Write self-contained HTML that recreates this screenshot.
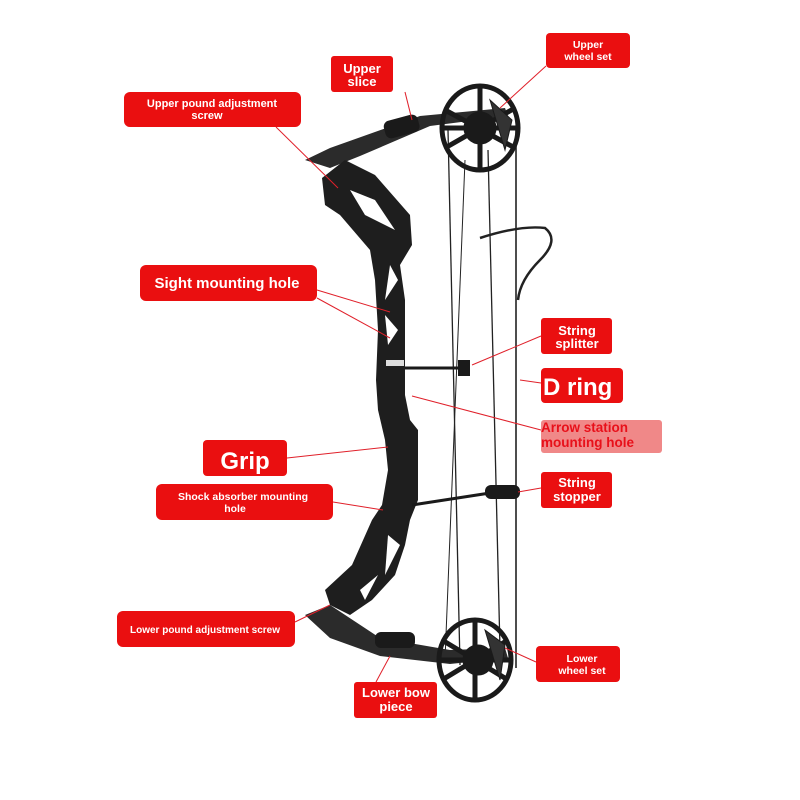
<!DOCTYPE html>
<html><head><meta charset="utf-8"><style>
html,body{margin:0;padding:0;background:#fff}
svg{display:block}
text{font-family:"Liberation Sans",sans-serif;font-weight:bold;fill:#fff;text-anchor:middle}
</style></head><body>
<svg width="800" height="800" viewBox="0 0 800 800" xmlns="http://www.w3.org/2000/svg">
<rect width="800" height="800" fill="#fff"/>
<g stroke="#222" fill="none">
<line x1="516" y1="128" x2="516" y2="668" stroke-width="1.6"/>
<line x1="448" y1="130" x2="460" y2="665" stroke-width="1.3"/>
<line x1="488" y1="150" x2="500" y2="650" stroke-width="1.3"/>
<line x1="465" y1="160" x2="445" y2="660" stroke-width="1"/>
<path d="M480 238 Q520 225 545 228 Q560 240 540 260 Q520 280 518 300" stroke-width="2.5"/>
</g>
<path d="M305 160 L330 148 L420 116 L505 108 L508 116 L430 126 L360 156 L330 168 Z" fill="#2b2b2b"/>
<rect x="385" y="118" width="35" height="18" rx="6" fill="#1a1a1a" transform="rotate(-15 400 130)"/>
<g stroke="#1a1a1a" fill="none">
<ellipse cx="480" cy="128" rx="38" ry="42" stroke-width="5"/>
<path d="M480 88 L480 168 M445 110 L515 148 M445 148 L515 108 M442 128 L518 128" stroke-width="5"/>
<circle cx="480" cy="128" r="16" fill="#1a1a1a"/>
<path d="M490 100 L512 120 L505 150 Z" fill="#333"/>
</g>
<path d="M322 178 L345 160 L375 175 L410 215 L412 245 L400 265 L405 300 L405 395 L410 420 L418 430 L418 500 L410 520 L405 545 L395 575 L372 600 L350 615 L330 605 L325 590 L352 565 L372 520 L382 505 L388 470 L385 440 L378 410 L376 380 L378 330 L375 280 L370 250 L340 215 L325 205 Z" fill="#1e1e1e"/>
<g fill="#fff">
<path d="M350 190 L375 200 L395 230 L365 215 Z"/>
<path d="M390 265 L398 280 L385 300 Z"/>
<path d="M385 315 L398 330 L388 345 Z"/>
<path d="M388 535 L400 545 L385 575 Z"/>
<path d="M360 590 L378 575 L365 600 Z"/>
</g>
<rect x="386" y="360" width="18" height="6" fill="#ddd"/>
<path d="M305 615 L330 605 L380 638 L450 650 L505 648 L508 658 L450 664 L380 656 L330 638 Z" fill="#2b2b2b"/>
<rect x="375" y="632" width="40" height="16" rx="6" fill="#1a1a1a"/>
<g stroke="#1a1a1a" fill="none">
<ellipse cx="475" cy="660" rx="36" ry="40" stroke-width="5"/>
<path d="M475 620 L475 700 M442 640 L508 680 M442 680 L508 640 M440 660 L510 660" stroke-width="5"/>
<circle cx="478" cy="660" r="15" fill="#1a1a1a"/>
<path d="M485 630 L505 645 L500 680 Z" fill="#333"/>
</g>
<line x1="405" y1="368" x2="465" y2="368" stroke="#1a1a1a" stroke-width="3"/>
<rect x="458" y="360" width="12" height="16" fill="#1a1a1a"/>
<line x1="412" y1="505" x2="490" y2="493" stroke="#1a1a1a" stroke-width="3"/>
<rect x="485" y="485" width="35" height="14" rx="6" fill="#1a1a1a"/>
<g stroke="#e0202a" stroke-width="1">
<line x1="405" y1="92" x2="412" y2="120"/>
<line x1="546" y1="66" x2="500" y2="108"/>
<line x1="276" y1="127" x2="338" y2="188"/>
<line x1="317" y1="290" x2="390" y2="312"/>
<line x1="317" y1="298" x2="390" y2="338"/>
<line x1="541" y1="336" x2="472" y2="365"/>
<line x1="541" y1="383" x2="520" y2="380"/>
<line x1="541" y1="430" x2="412" y2="396"/>
<line x1="287" y1="458" x2="388" y2="447"/>
<line x1="333" y1="502" x2="383" y2="510"/>
<line x1="541" y1="488" x2="518" y2="492"/>
<line x1="295" y1="622" x2="330" y2="605"/>
<line x1="536" y1="662" x2="505" y2="648"/>
<line x1="376" y1="682" x2="390" y2="656"/>
</g>
<g fill="#ea0f10">
<rect x="331" y="56" width="62" height="36" rx="3"/>
<rect x="546" y="33" width="84" height="35" rx="4"/>
<rect x="124" y="92" width="177" height="35" rx="6"/>
<rect x="140" y="265" width="177" height="36" rx="6"/>
<rect x="541" y="318" width="71" height="36" rx="3"/>
<rect x="541" y="368" width="82" height="35" rx="4"/>
<rect x="541" y="420" width="121" height="33" rx="3" fill="#f08888"/>
<rect x="203" y="440" width="84" height="36" rx="4"/>
<rect x="156" y="484" width="177" height="36" rx="6"/>
<rect x="541" y="472" width="71" height="36" rx="3"/>
<rect x="117" y="611" width="178" height="36" rx="6"/>
<rect x="536" y="646" width="84" height="36" rx="4"/>
<rect x="354" y="682" width="83" height="36" rx="3"/>
</g>
<text x="362" y="73" font-size="13">Upper</text>
<text x="362" y="86" font-size="13">slice</text>
<text x="588" y="48" font-size="10.5">Upper</text>
<text x="588" y="60" font-size="10.5">wheel set</text>
<text x="212" y="107" font-size="11">Upper pound adjustment</text>
<text x="207" y="119" font-size="11">screw</text>
<text x="227" y="288" font-size="15">Sight mounting hole</text>
<text x="577" y="335" font-size="13">String</text>
<text x="577" y="348" font-size="13">splitter</text>
<text x="543" y="395" font-size="24" style="text-anchor:start">D ring</text>
<text x="541" y="432" font-size="13.5" style="fill:#e8101a;text-anchor:start">Arrow station</text>
<text x="541" y="447" font-size="13.5" style="fill:#e8101a;text-anchor:start">mounting hole</text>
<text x="245" y="469" font-size="24">Grip</text>
<text x="243" y="500" font-size="10.5">Shock absorber mounting</text>
<text x="235" y="512" font-size="10.5">hole</text>
<text x="577" y="487" font-size="13">String</text>
<text x="577" y="501" font-size="13">stopper</text>
<text x="205" y="633" font-size="10">Lower pound adjustment screw</text>
<text x="582" y="662" font-size="10.5">Lower</text>
<text x="582" y="674" font-size="10.5">wheel set</text>
<text x="396" y="697" font-size="13">Lower bow</text>
<text x="396" y="711" font-size="13">piece</text>
</svg>
</body></html>
